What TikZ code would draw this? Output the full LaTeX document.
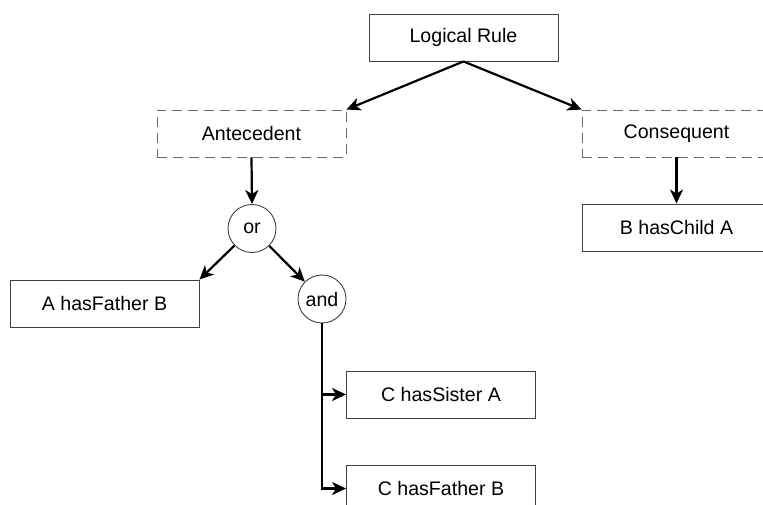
\documentclass[tikz,border=0pt]{standalone}
\usepackage{fontspec}
\setmainfont{Liberation Sans}
\usetikzlibrary{arrows.meta}

\tikzset{
  rulebox/.style={draw=black!75,line width=0.9pt,minimum width=189pt,minimum height=47pt,inner sep=0pt,font=\fontsize{19.6}{23}\selectfont},
  partbox/.style={rulebox,draw=black!60,dash pattern=on 10pt off 6pt},
  opnode/.style={circle,draw=black!75,line width=0.9pt,minimum size=48pt,inner sep=0pt,font=\fontsize{19.6}{23}\selectfont},
  link/.style={->,line width=2.2pt}
}

\begin{document}
\begin{tikzpicture}[x=1pt,y=-1pt,>={Stealth[length=14pt,width=13pt,inset=4pt]}]
\useasboundingbox (0,0) rectangle (763,505);
\clip (0,0) rectangle (763,505);

\node[rulebox] (rule) at (463.5,37.5) {Logical Rule};
\node[partbox] (ante) at (251.5,133.5) {Antecedent};
\node[partbox] (cons) at (676.5,133.5) {Consequent};
\node[rulebox] (childBA) at (676.5,227.5) {B hasChild A};

\node[opnode] (orop) at (252,228.5) {or};
\node[opnode] (andop) at (322,299) {and};
\node[rulebox] (fatherAB) at (104.5,303.5) {A hasFather B};
\node[rulebox] (sisterCA) at (441,394.5) {C hasSister A};
\node[rulebox] (fatherCB) at (441,488.5) {C hasFather B};

\draw[link] (rule.south) -- (ante.north east);
\draw[link] (rule.south) -- (cons.north west);
\draw[link] (cons.south) -- (childBA.north);
\draw[link] (ante.south) -- (orop.north);
\draw[link] (orop) -- (fatherAB.north east);
\draw[link] (orop) -- (andop);
\draw[link] (andop.south) |- (sisterCA.west);
\draw[link] (andop.south) |- (fatherCB.west);
\end{tikzpicture}
\end{document}
